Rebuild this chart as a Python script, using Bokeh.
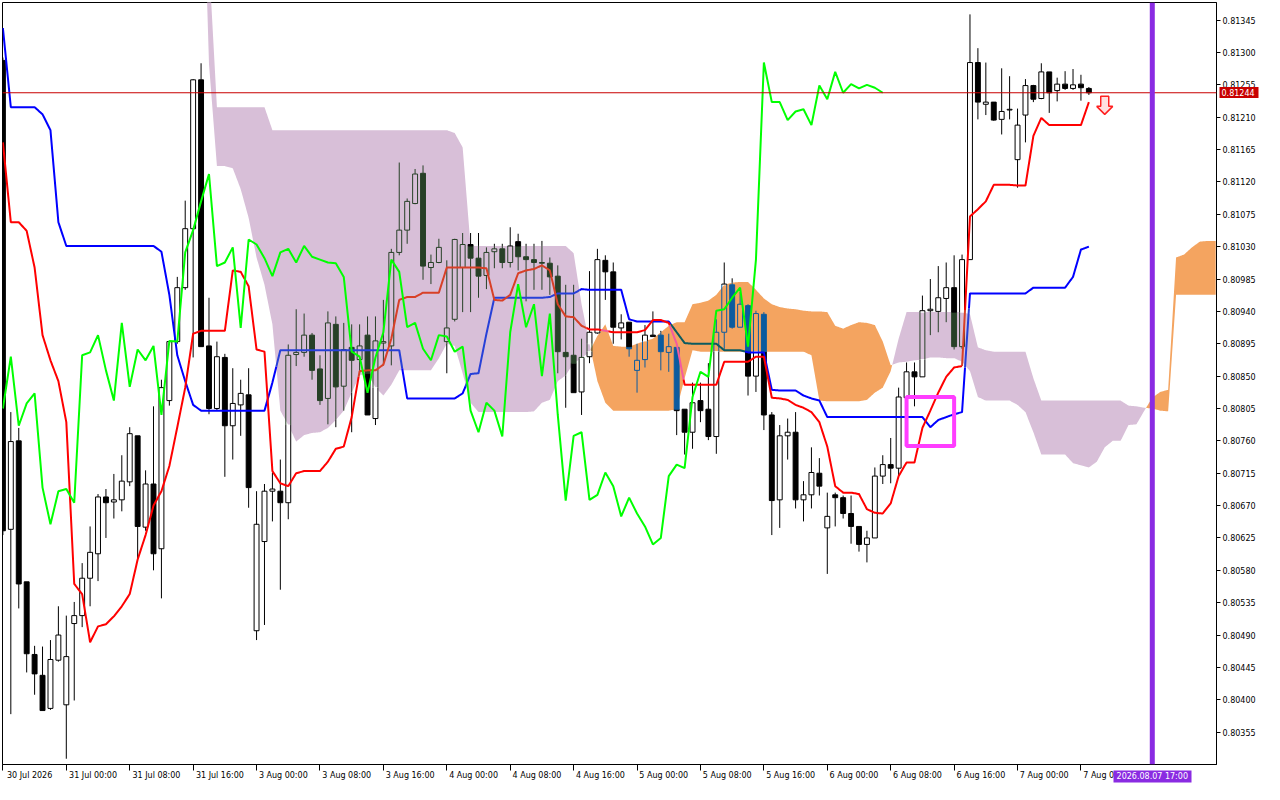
import numpy as np
from bokeh.plotting import figure
from bokeh.models import Range1d, FixedTicker, PrintfTickFormatter, Span, LinearAxis
from bokeh.embed import file_html
from bokeh.resources import INLINE

# ---------------- data ----------------
opens = [0.81289,0.80637,0.80760,0.80564,0.80463,0.80434,0.80388,0.80455,0.80393,0.80506,
         0.80517,0.80569,0.80603,0.80682,0.80675,0.80678,0.80703,0.80767,0.80640,0.80700,
         0.80610,0.80816,0.80898,0.80973,0.81055,0.81262,0.80892,0.80805,0.80876,0.80781,
         0.80810,0.80824,0.80496,0.80620,0.80690,0.80690,0.80674,0.80880,0.80883,0.80907,
         0.80860,0.80819,0.80922,0.80836,0.80890,0.80873,0.80907,0.80791,0.80896,0.80892,
         0.81022,0.81053,0.81090,0.81132,0.81001,0.81008,0.80898,0.80929,0.81001,0.81033,
         0.81014,0.80990,0.81023,0.81027,0.81008,0.81037,0.81016,0.81012,0.81008,0.81007,
         0.80989,0.80883,0.80879,0.80828,0.80877,0.80910,0.81011,0.80995,0.80917,0.80925,
         0.80858,0.80873,0.80907,0.80907,0.80883,0.80890,0.80804,0.80772,0.80816,0.80804,
         0.80766,0.80911,0.80977,0.80918,0.80948,0.80850,0.80936,0.80796,0.80678,0.80767,
         0.80772,0.80678,0.80685,0.80715,0.80639,0.80685,0.80681,0.80659,0.80641,0.80616,
         0.80625,0.80711,0.80727,0.80722,0.80820,0.80856,0.80849,0.80941,0.80940,0.80958,
         0.80973,0.80891,0.81012,0.81286,0.81228,0.81231,0.81207,0.81220,0.81151,0.81213,
         0.81254,0.81236,0.81273,0.81247,0.81256,0.81250,0.81256,0.81250]
highs = [0.81293,0.80800,0.80778,0.80564,0.80475,0.80474,0.80483,0.80530,0.80517,0.80536,
         0.80590,0.80641,0.80686,0.80693,0.80714,0.80740,0.80779,0.80767,0.80719,0.80808,
         0.80845,0.80899,0.80988,0.81094,0.81263,0.81285,0.80959,0.80898,0.80881,0.80861,
         0.80845,0.80861,0.80690,0.80700,0.80716,0.80734,0.80894,0.80943,0.80937,0.80910,
         0.80879,0.80940,0.80933,0.80924,0.80922,0.80922,0.80933,0.80933,0.80956,0.81027,
         0.81147,0.81097,0.81138,0.81143,0.81019,0.81041,0.81011,0.81041,0.81049,0.81049,
         0.81049,0.81029,0.81034,0.81034,0.81057,0.81048,0.81034,0.81034,0.81038,0.81015,
         0.81004,0.80977,0.80977,0.80902,0.80996,0.81027,0.81018,0.81008,0.80936,0.80925,
         0.80895,0.80921,0.80940,0.80913,0.80909,0.80890,0.80804,0.80841,0.80841,0.80868,
         0.80929,0.81008,0.80986,0.80967,0.80950,0.80941,0.80939,0.80800,0.80782,0.80791,
         0.80800,0.80704,0.80751,0.80736,0.80688,0.80688,0.80684,0.80684,0.80641,0.80635,
         0.80723,0.80740,0.80764,0.80834,0.80869,0.80869,0.80962,0.80985,0.81003,0.81008,
         0.81018,0.81019,0.81353,0.81306,0.81286,0.81231,0.81278,0.81267,0.81222,0.81263,
         0.81255,0.81285,0.81273,0.81265,0.81274,0.81277,0.81269,0.81252]
lows = [0.80629,0.80380,0.80527,0.80438,0.80407,0.80385,0.80386,0.80453,0.80318,0.80399,
        0.80501,0.80530,0.80565,0.80625,0.80652,0.80662,0.80697,0.80596,0.80635,0.80580,
        0.80541,0.80809,0.80895,0.80970,0.80876,0.80891,0.80797,0.80802,0.80710,0.80734,
        0.80767,0.80667,0.80483,0.80504,0.80648,0.80553,0.80651,0.80864,0.80877,0.80845,
        0.80810,0.80783,0.80779,0.80802,0.80772,0.80854,0.80796,0.80782,0.80865,0.80865,
        0.81018,0.81034,0.81089,0.80984,0.80978,0.81007,0.80854,0.80926,0.80939,0.80939,
        0.80959,0.80971,0.81000,0.81000,0.81001,0.80997,0.80954,0.80970,0.80970,0.80963,
        0.80854,0.80806,0.80827,0.80796,0.80868,0.80909,0.80956,0.80895,0.80901,0.80877,
        0.80827,0.80862,0.80905,0.80858,0.80856,0.80768,0.80741,0.80749,0.80786,0.80761,
        0.80742,0.80886,0.80916,0.80918,0.80823,0.80828,0.80775,0.80629,0.80639,0.80734,
        0.80666,0.80648,0.80666,0.80684,0.80575,0.80641,0.80652,0.80617,0.80606,0.80591,
        0.80625,0.80700,0.80701,0.80711,0.80817,0.80808,0.80849,0.80907,0.80911,0.80925,
        0.80887,0.80888,0.81012,0.81207,0.81213,0.81205,0.81186,0.81207,0.81112,0.81175,
        0.81231,0.81235,0.81216,0.81232,0.81248,0.81248,0.81233,0.81241]
closes = [0.80635,0.80759,0.80561,0.80464,0.80436,0.80385,0.80456,0.80490,0.80460,0.80517,
          0.80569,0.80605,0.80682,0.80674,0.80678,0.80704,0.80770,0.80641,0.80700,0.80603,
          0.80834,0.80898,0.80973,0.81055,0.81262,0.80891,0.80805,0.80877,0.80781,0.80812,
          0.80826,0.80695,0.80644,0.80690,0.80693,0.80674,0.80879,0.80883,0.80907,0.80858,
          0.80816,0.80924,0.80835,0.80887,0.80872,0.80892,0.80796,0.80899,0.80898,0.81022,
          0.81053,0.81093,0.81131,0.81003,0.81008,0.81029,0.80917,0.81040,0.81033,0.81014,
          0.80989,0.81022,0.81027,0.81008,0.81031,0.81016,0.81012,0.81008,0.81007,0.80988,
          0.80884,0.80877,0.80827,0.80876,0.80911,0.81012,0.80995,0.80918,0.80924,0.80888,
          0.80872,0.80907,0.80905,0.80884,0.80891,0.80802,0.80772,0.80813,0.80802,0.80766,
          0.80911,0.80978,0.80918,0.80950,0.80850,0.80937,0.80796,0.80677,0.80767,0.80772,
          0.80678,0.80685,0.80716,0.80697,0.80655,0.80681,0.80659,0.80641,0.80616,0.80625,
          0.80711,0.80727,0.80722,0.80821,0.80856,0.80849,0.80941,0.80943,0.80959,0.80973,
          0.80891,0.81012,0.81286,0.81231,0.81231,0.81206,0.81218,0.81221,0.81199,0.81254,
          0.81235,0.81273,0.81244,0.81256,0.81250,0.81255,0.81251,0.81244]
tenkan = [0.81175,0.81064,0.81064,0.81052,0.81001,0.80907,0.80872,0.80843,0.80786,0.80561,
          0.80547,0.80480,0.80502,0.80505,0.80516,0.80530,0.80547,0.80595,0.80629,0.80670,
          0.80690,0.80725,0.80779,0.80834,0.80909,0.80913,0.80913,0.80913,0.80913,0.80997,
          0.80995,0.80975,0.80887,0.80884,0.80718,0.80701,0.80697,0.80715,0.80718,0.80718,
          0.80718,0.80731,0.80749,0.80752,0.80793,0.80857,0.80858,0.80858,0.80866,0.80902,
          0.80956,0.80960,0.80960,0.80966,0.80966,0.80966,0.81001,0.81001,0.81001,0.81001,
          0.81001,0.81000,0.80956,0.80955,0.80963,0.80993,0.80997,0.80999,0.81004,0.80997,
          0.80950,0.80933,0.80932,0.80920,0.80915,0.80915,0.80913,0.80911,0.80911,0.80911,
          0.80911,0.80914,0.80928,0.80928,0.80924,0.80895,0.80838,0.80838,0.80838,0.80838,
          0.80838,0.80870,0.80870,0.80870,0.80870,0.80877,0.80877,0.80820,0.80819,0.80817,
          0.80810,0.80806,0.80800,0.80786,0.80752,0.80697,0.80688,0.80688,0.80686,0.80665,
          0.80660,0.80659,0.80673,0.80711,0.80730,0.80730,0.80778,0.80802,0.80827,0.80849,
          0.80862,0.80864,0.81072,0.81082,0.81093,0.81116,0.81116,0.81116,0.81115,0.81115,
          0.81184,0.81209,0.81199,0.81199,0.81199,0.81199,0.81199,0.81231]
kijun = [0.81334,0.81224,0.81224,0.81224,0.81224,0.81214,0.81192,0.81064,0.81031,0.81031,
         0.81031,0.81031,0.81031,0.81031,0.81031,0.81031,0.81031,0.81031,0.81031,0.81031,
         0.81023,0.80963,0.80879,0.80843,0.80810,0.80802,0.80802,0.80802,0.80802,0.80802,
         0.80802,0.80802,0.80802,0.80802,0.80841,0.80886,0.80886,0.80886,0.80886,0.80886,
         0.80886,0.80886,0.80886,0.80886,0.80886,0.80886,0.80886,0.80886,0.80886,0.80886,
         0.80886,0.80819,0.80819,0.80819,0.80819,0.80819,0.80819,0.80819,0.80826,0.80853,
         0.80854,0.80909,0.80959,0.80959,0.80959,0.80959,0.80959,0.80959,0.80959,0.80960,
         0.80965,0.80965,0.80965,0.80971,0.80970,0.80970,0.80970,0.80970,0.80970,0.80929,
         0.80926,0.80926,0.80926,0.80926,0.80926,0.80911,0.80896,0.80895,0.80895,0.80895,
         0.80895,0.80886,0.80886,0.80886,0.80883,0.80883,0.80883,0.80831,0.80830,0.80830,
         0.80830,0.80823,0.80819,0.80816,0.80793,0.80793,0.80793,0.80793,0.80793,0.80793,
         0.80793,0.80793,0.80793,0.80793,0.80793,0.80793,0.80793,0.80779,0.80789,0.80793,
         0.80797,0.80800,0.80965,0.80965,0.80965,0.80965,0.80965,0.80965,0.80965,0.80965,
         0.80973,0.80973,0.80973,0.80973,0.80973,0.80988,0.81026,0.81030]
span_start = 25   # bar index of the first cloud value (cloud runs 26 bars ahead)
span_a = [0.81645,0.81284,0.81142,0.81142,0.81139,0.81110,0.81070,0.81015,0.80977,0.80922,
          0.80802,0.80782,0.80759,0.80768,0.80771,0.80772,0.80778,0.80789,0.80802,0.80827,
          0.80851,0.80854,0.80834,0.80823,0.80838,0.80858,0.80858,0.80858,0.80858,0.80858,
          0.80875,0.80895,0.80892,0.80854,0.80813,0.80800,0.80800,0.80800,0.80800,0.80800,
          0.80800,0.80800,0.80801,0.80813,0.80817,0.80843,0.80851,0.80868,0.80875,0.80884,
          0.80906,0.80922,0.80892,0.80891,0.80891,0.80895,0.80899,0.80902,0.80911,0.80920,
          0.80925,0.80925,0.80950,0.80952,0.80955,0.80963,0.80977,0.80980,0.80981,0.80981,
          0.80970,0.80958,0.80950,0.80946,0.80944,0.80943,0.80941,0.80940,0.80940,0.80939,
          0.80920,0.80916,0.80921,0.80925,0.80924,0.80921,0.80898,0.80865,0.80869,0.80870,
          0.80872,0.80873,0.80876,0.80876,0.80875,0.80875,0.80870,0.80857,0.80821,0.80816,
          0.80816,0.80816,0.80816,0.80810,0.80800,0.80772,0.80741,0.80741,0.80741,0.80741,
          0.80729,0.80726,0.80723,0.80731,0.80751,0.80760,0.80760,0.80782,0.80783,0.80802,
          0.80820,0.80828,0.80831,0.81015,0.81019,0.81029,0.81037,0.81038,0.81038]
span_b = [0.81918,0.81427,0.81224,0.81224,0.81224,0.81224,0.81224,0.81224,0.81224,0.81192,
          0.81192,0.81192,0.81192,0.81192,0.81192,0.81192,0.81192,0.81192,0.81192,0.81192,
          0.81192,0.81192,0.81192,0.81192,0.81192,0.81192,0.81192,0.81192,0.81192,0.81192,
          0.81192,0.81192,0.81188,0.81168,0.81031,0.81031,0.81031,0.81031,0.81031,0.81031,
          0.81031,0.81031,0.81031,0.81031,0.81031,0.81031,0.81031,0.81021,0.80950,0.80895,
          0.80843,0.80813,0.80802,0.80802,0.80802,0.80802,0.80802,0.80802,0.80802,0.80802,
          0.80804,0.80847,0.80886,0.80884,0.80884,0.80884,0.80884,0.80884,0.80884,0.80884,
          0.80884,0.80884,0.80884,0.80884,0.80884,0.80884,0.80884,0.80879,0.80816,0.80815,
          0.80815,0.80815,0.80815,0.80815,0.80817,0.80827,0.80834,0.80857,0.80902,0.80939,
          0.80939,0.80939,0.80939,0.80939,0.80939,0.80939,0.80939,0.80936,0.80890,0.80886,
          0.80884,0.80884,0.80884,0.80884,0.80884,0.80847,0.80816,0.80816,0.80816,0.80816,
          0.80816,0.80816,0.80816,0.80816,0.80816,0.80816,0.80816,0.80809,0.80808,0.80806,
          0.80805,0.80802,0.80801,0.80963,0.80963,0.80963,0.80963,0.80963,0.80963]
chikou_shift = 26
time_labels = ["30 Jul 2026", "31 Jul 00:00", "31 Jul 08:00", "31 Jul 16:00", "3 Aug 00:00",
               "3 Aug 08:00", "3 Aug 16:00", "4 Aug 00:00", "4 Aug 08:00", "4 Aug 16:00",
               "5 Aug 00:00", "5 Aug 08:00", "5 Aug 16:00", "6 Aug 00:00", "6 Aug 08:00",
               "6 Aug 16:00", "7 Aug 00:00", "7 Aug 08:00"]
label_bars = [0, 8, 16, 24, 32, 40, 48, 56, 64, 72, 80, 88, 96, 104, 112, 120, 128, 136]
price_ticks = [0.80355, 0.80400, 0.80445, 0.80490, 0.80535, 0.80580, 0.80625, 0.80670,
               0.80715, 0.80760, 0.80805, 0.80850, 0.80895, 0.80940, 0.80985, 0.81030,
               0.81075, 0.81120, 0.81165, 0.81210, 0.81255, 0.81300, 0.81345]
bid_price = 0.81244
bid_text = "0.81244"
vline_bar = 145
vline_text = "2026.08.07 17:00"
rect_bars = [114, 120]
rect_prices = [0.80753, 0.80821]
arrow_bar = 139
arrow_price = 0.81239

# ---------------- layout ----------------
W, H = 1264, 784
BL, BR, BT, BB = 2, 48, 2, 20
FW, FH = W - BL - BR, H - BT - BB
X0, X1 = -0.05, 153.1
Y0, Y1 = 0.80310, 0.813695
DXPX = (X1 - X0) / FW
DYPX = (Y1 - Y0) / FH

THISTLE = (216, 191, 216)
SANDY = (244, 164, 96)
BLACK = (0, 0, 0)
BID_RED = "#c80000"
VIOLET = "#8a2be2"
FONT = "DejaVu Sans"


def hexc(c):
    return "#%02x%02x%02x" % c


def xor(c, cloud):
    key = tuple(255 - v for v in cloud)
    return tuple(a ^ b for a, b in zip(c, key))


sx = np.arange(span_start, span_start + len(span_a), dtype=float)
SA = np.array(span_a)
SB = np.array(span_b)


def cloud_at(x):
    if x < sx[0] or x > sx[-1]:
        return None
    a = float(np.interp(x, sx, SA))
    b = float(np.interp(x, sx, SB))
    if a == b:
        return None
    return (min(a, b), max(a, b), SANDY if a > b else THISTLE)


def split(y0, y1, cl):
    lo, hi = min(y0, y1), max(y0, y1)
    if cl is None or hi <= cl[0] or lo >= cl[1]:
        return [(lo, hi, None)]
    parts = []
    if lo < cl[0]:
        parts.append((lo, cl[0], None))
    parts.append((max(lo, cl[0]), min(hi, cl[1]), cl[2]))
    if hi > cl[1]:
        parts.append((cl[1], hi, None))
    return parts


p = figure(width=W, height=H, x_range=Range1d(X0, X1), y_range=Range1d(Y0, Y1),
           y_axis_location="right", toolbar_location=None, output_backend="svg",
           min_border_left=BL, min_border_right=BR, min_border_top=BT, min_border_bottom=BB)
p.grid.visible = False
p.outline_line_color = "black"
p.outline_line_width = 1
p.background_fill_color = "white"
p.border_fill_color = "white"

# ---------------- cloud ----------------
fx = np.linspace(sx[0], sx[-1], (len(sx) - 1) * 16 + 1)
fa = np.interp(fx, sx, SA)
fb = np.interp(fx, sx, SB)
flo = np.minimum(fa, fb)
p.varea(x=fx, y1=fa, y2=flo, fill_color=hexc(SANDY), fill_alpha=1.0)
p.varea(x=fx, y1=fb, y2=flo, fill_color=hexc(THISTLE), fill_alpha=1.0)

# ---------------- candles (cloud drawn XOR-like over them, as in MT5) ----------------
seg = dict(x0=[], y0=[], x1=[], y1=[], c=[])
quad = dict(l=[], r=[], t=[], b=[], c=[])
hw = 0.31


def add_vseg(x, y0, y1, base, cl):
    for lo, hi, cc in split(y0, y1, cl):
        if hi - lo <= 0:
            continue
        seg['x0'].append(x); seg['x1'].append(x)
        seg['y0'].append(lo); seg['y1'].append(hi)
        seg['c'].append(hexc(base if cc is None else xor(base, cc)))


def add_hseg(xa, xb, y, base, cl):
    inside = cl is not None and cl[0] < y < cl[1]
    seg['x0'].append(xa); seg['x1'].append(xb)
    seg['y0'].append(y); seg['y1'].append(y)
    seg['c'].append(hexc(xor(base, cl[2]) if inside else base))


for i in range(len(opens)):
    o, h, l, c = opens[i], highs[i], lows[i], closes[i]
    cl = cloud_at(i)
    top, bot = max(o, c), min(o, c)
    add_vseg(i, top, h, BLACK, cl)
    add_vseg(i, l, bot, BLACK, cl)
    if c < o:
        for lo, hi, cc in split(bot, top, cl):
            quad['l'].append(i - hw); quad['r'].append(i + hw)
            quad['t'].append(hi); quad['b'].append(lo)
            quad['c'].append(hexc(BLACK if cc is None else xor(BLACK, cc)))
    else:
        for lo, hi, cc in split(bot, top, cl):
            if cc is None and hi > lo:
                quad['l'].append(i - hw); quad['r'].append(i + hw)
                quad['t'].append(hi); quad['b'].append(lo)
                quad['c'].append("#ffffff")
        add_vseg(i - hw, bot, top, BLACK, cl)
        add_vseg(i + hw, bot, top, BLACK, cl)
        add_hseg(i - hw, i + hw, top, BLACK, cl)
        add_hseg(i - hw, i + hw, bot, BLACK, cl)

p.quad(left=quad['l'], right=quad['r'], top=quad['t'], bottom=quad['b'],
       fill_color=quad['c'], line_color=quad['c'], line_width=1)
p.segment(x0=seg['x0'], y0=seg['y0'], x1=seg['x1'], y1=seg['y1'],
          line_color=seg['c'], line_width=1)


# ---------------- Tenkan / Kijun (colour flips inside the cloud) ----------------
def xor_runs(vals, base):
    xs_runs, ys_runs, cols = [], [], []
    cur_x, cur_y, cur_c = [], [], None
    sub = 8
    for i in range(len(vals) - 1):
        for k in range(sub):
            t0, t1 = k / sub, (k + 1) / sub
            xa, xb = i + t0, i + t1
            ya = vals[i] + (vals[i + 1] - vals[i]) * t0
            yb = vals[i] + (vals[i + 1] - vals[i]) * t1
            cl = cloud_at((xa + xb) / 2)
            ym = (ya + yb) / 2
            col = base if (cl is None or not (cl[0] < ym < cl[1])) else xor(base, cl[2])
            if col != cur_c:
                if cur_x:
                    xs_runs.append(cur_x); ys_runs.append(cur_y); cols.append(hexc(cur_c))
                cur_x, cur_y, cur_c = [xa], [ya], col
            cur_x.append(xb); cur_y.append(yb)
    if cur_x:
        xs_runs.append(cur_x); ys_runs.append(cur_y); cols.append(hexc(cur_c))
    return xs_runs, ys_runs, cols


for vals, base in ((kijun, (0, 0, 255)), (tenkan, (255, 0, 0))):
    xs_r, ys_r, cols = xor_runs(vals, base)
    p.multi_line(xs=xs_r, ys=ys_r, line_color=cols, line_width=2)

# ---------------- Chikou ----------------
chikou_x = list(range(len(closes) - chikou_shift))
chikou_y = closes[chikou_shift:]
p.line(chikou_x, chikou_y, line_color="#00ff00", line_width=2)

# ---------------- objects ----------------
p.add_layout(Span(location=bid_price, dimension="width", line_color=BID_RED, line_width=1))
p.quad(left=rect_bars[0], right=rect_bars[1], bottom=rect_prices[0], top=rect_prices[1],
       fill_alpha=0, line_color="#ff3dff", line_width=4)

arrow_px = [(-4, 0), (4, 0), (4, 10), (8, 10), (0, 18), (-8, 10), (-4, 10)]
p.patch([arrow_bar + dx * DXPX for dx, dy in arrow_px],
        [arrow_price - dy * DYPX for dx, dy in arrow_px],
        fill_color="#ffe0e0", line_color="#ff2020", line_width=1.5)

p.add_layout(Span(location=vline_bar, dimension="height", line_color=VIOLET, line_width=5))

# ---------------- axes ----------------
p.yaxis.ticker = FixedTicker(ticks=price_ticks)
p.yaxis.formatter = PrintfTickFormatter(format="%.5f")
p.yaxis.major_tick_out = 4
p.yaxis.major_tick_in = 0
p.yaxis.minor_tick_out = 0
p.yaxis.minor_tick_in = 0
p.yaxis.major_label_standoff = 2
p.yaxis.major_label_text_font = FONT
p.yaxis.major_label_text_font_size = "8px"
p.yaxis.major_label_text_color = "black"
p.yaxis.axis_line_color = "black"
p.yaxis.major_tick_line_color = "black"

shift = 3.375   # labels start just right of their tick, as in MT5
p.xaxis.ticker = FixedTicker(ticks=[b + shift for b in label_bars], minor_ticks=label_bars)
p.xaxis.major_label_overrides = {b + shift: t for b, t in zip(label_bars, time_labels)}
p.xaxis.major_tick_out = 6
p.xaxis.major_tick_in = 0
p.xaxis.major_tick_line_color = None
p.xaxis.minor_tick_out = 6
p.xaxis.minor_tick_in = 0
p.xaxis.minor_tick_line_color = "black"
p.xaxis.major_label_standoff = 0
p.xaxis.major_label_text_font = FONT
p.xaxis.major_label_text_font_size = "8px"
p.xaxis.major_label_text_color = "black"
p.xaxis.axis_line_color = "black"

# Current-price tag: an extra right axis whose single wide tick forms the red box
tag_axis = LinearAxis(ticker=FixedTicker(ticks=[bid_price]),
                      major_label_overrides={bid_price: bid_text},
                      axis_line_color=None, major_tick_in=39, major_tick_out=0,
                      major_tick_line_color=BID_RED, major_tick_line_width=11,
                      minor_tick_line_color=None, minor_tick_in=0, minor_tick_out=0,
                      major_label_standoff=-37, major_label_text_color="white",
                      major_label_text_font=FONT, major_label_text_font_size="8px")
p.add_layout(tag_axis, "right")

# Time tag of the vertical line: an extra bottom axis whose single wide tick forms the violet box
time_axis = LinearAxis(ticker=FixedTicker(ticks=[vline_bar]),
                       major_label_overrides={vline_bar: vline_text},
                       axis_line_color=None, major_tick_in=12, major_tick_out=0,
                       major_tick_line_color=VIOLET, major_tick_line_width=78,
                       minor_tick_line_color=None, minor_tick_in=0, minor_tick_out=0,
                       major_label_standoff=-11, major_label_text_color="white",
                       major_label_text_font=FONT, major_label_text_font_size="8px")
p.add_layout(time_axis, "below")

open("out.html", "w").write(file_html(p, INLINE))
